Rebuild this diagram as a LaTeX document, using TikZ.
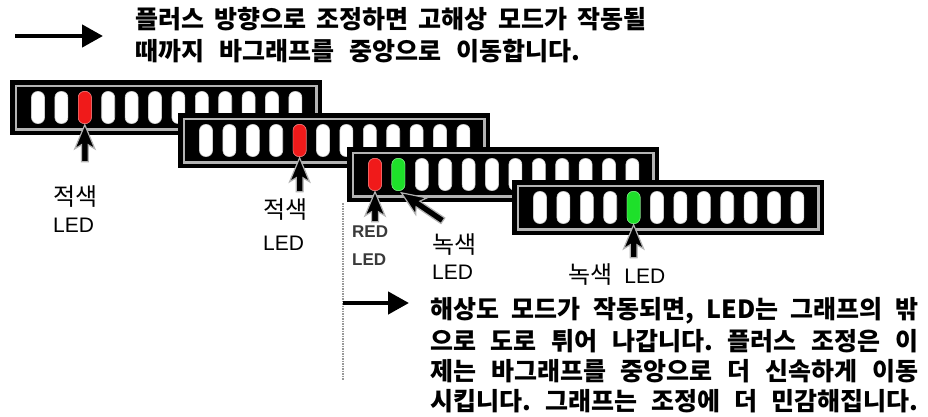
\documentclass[tikz,border=0pt]{standalone}
\usepackage{fontspec}
\setmainfont{Liberation Sans}
\newfontfamily\kr{Noto Sans CJK KR}
\usetikzlibrary{arrows.meta}
\definecolor{ledred}{HTML}{F01A1A}
\definecolor{ledgreen}{HTML}{1EE02A}
\definecolor{rimgray}{HTML}{B4B4B4}
\definecolor{redledtxt}{HTML}{3A3A3A}
\frenchspacing
\begin{document}
\begin{tikzpicture}[x=1pt,y=-1pt,
  barbox/.style={rectangle, fill=black, minimum width=312pt, minimum height=55pt, inner sep=0pt, anchor=north west},
  rimline/.style={draw=rimgray, line width=2.5pt},
  led/.style={rectangle, rounded corners=6pt, minimum width=13pt, minimum height=32pt, inner sep=0pt, fill=white, draw=gray!40, line width=0.6pt},
  redled/.style={led, fill=ledred, draw=ledred!70},
  greenled/.style={led, fill=ledgreen, draw=ledgreen!70},
  boldtext/.style={anchor=west, inner sep=0pt, font=\kr\bfseries\fontsize{25}{29}\selectfont},
  krlbl/.style={anchor=west, inner sep=0pt, font=\kr\fontsize{24}{28}\selectfont},
  enlbl/.style={anchor=west, inner sep=0pt, font=\fontsize{21}{25}\selectfont},
  smalllbl/.style={anchor=west, inner sep=0pt, text=redledtxt, font=\bfseries\fontsize{17}{20}\selectfont},
  bigarrow/.style={line width=4.5pt, -{Triangle[length=21pt,width=22pt]}},
  dotline/.style={draw=gray!80, line width=2.5pt, dash pattern=on 1.5pt off 1pt},
  pics/pointer/.style={code={
    \filldraw[fill=black, draw=gray!60, line width=1.2pt, line join=miter]
      (0,0) -- (10,24) -- (3.4,20) -- (3.4,#1) -- (-3.4,#1) -- (-3.4,20) -- (-10,24) -- cycle;
  }}
]
\fill[white] (0,0) rectangle (928,417);
\useasboundingbox (0,0) rectangle (928,417);

% top arrow and text
\coordinate (a1s) at (15,36);
\coordinate (a1e) at (103,36);
\draw[bigarrow] (a1s) -- (a1e);
\node[boldtext] (top1) at (135,19) {\makebox[511pt][s]{플러스 방향으로 조정하면 고해상 모드가 작동될}};
\node[boldtext] (top2) at (135,51) {\makebox[445pt][s]{때까지 바그래프를 중앙으로 이동합니다.}};

% bar graphs
\foreach \b/\x/\y in {1/10/80, 2/178/113, 3/347/147, 4/512/180} {
  \node[barbox] (bar\b) at (\x,\y) {};
  \draw[rimline] ([xshift=6pt,yshift=-6pt]bar\b.north west) rectangle ([xshift=-6pt,yshift=6pt]bar\b.south east);
  \foreach \i in {0,...,11} {
    \node[led] (led\b-\i) at (\x+28+\i*23.4, \y+27.5) {};
  }
}
\node[redled] (r1) at (led1-2) {};
\node[redled] (r2) at (led2-4) {};
\node[redled] (r3) at (led3-0) {};
\node[greenled] (g3) at (led3-1) {};
\node[greenled] (g4) at (led4-4) {};

% pointers
\pic at ([yshift=-1pt]r1.south) {pointer=37};
\pic at ([yshift=-1pt]r2.south) {pointer=34};
\pic at ([yshift=-1pt]r3.south) {pointer=30};
\pic[rotate=56] at ([xshift=3pt,yshift=-2pt]g3.south) {pointer=50};
\pic at ([yshift=-1pt]g4.south) {pointer=33};

% labels
\node[krlbl] (lab1a) at (53,197) {적색};
\node[enlbl] (lab1b) at (53,225) {LED};
\node[krlbl] (lab2a) at (263,210) {적색};
\node[enlbl] (lab2b) at (263,243) {LED};
\node[smalllbl] (lab3a) at (352,232) {RED};
\node[smalllbl] (lab3b) at (352,260) {LED};
\node[krlbl] (lab4a) at (432,245) {녹색};
\node[enlbl] (lab4b) at (432,272) {LED};
\node[krlbl] (lab5) at (568,275) {녹색\hspace{12pt}\fontspec{Liberation Sans}\fontsize{21}{25}\selectfont LED};

% dotted line and second arrow
\coordinate (d1) at (343,203);
\coordinate (d2) at (343,380);
\draw[dotline] (d1) -- (d2);
\coordinate (a2s) at (343,303);
\coordinate (a2e) at (409,303);
\draw[bigarrow] (a2s) -- (a2e);

% bottom text
\node[boldtext] (bt1) at (430,311) {\makebox[488pt][s]{해상도 모드가 작동되면, LED는 그래프의 밖}};
\node[boldtext] (bt2) at (430,341) {\makebox[488pt][s]{으로 도로 튀어 나갑니다. 플러스 조정은 이}};
\node[boldtext] (bt3) at (430,371) {\makebox[488pt][s]{제는 바그래프를 중앙으로 더 신속하게 이동}};
\node[boldtext] (bt4) at (430,401) {\makebox[488pt][s]{시킵니다. 그래프는 조정에 더 민감해집니다.}};
\end{tikzpicture}
\end{document}
